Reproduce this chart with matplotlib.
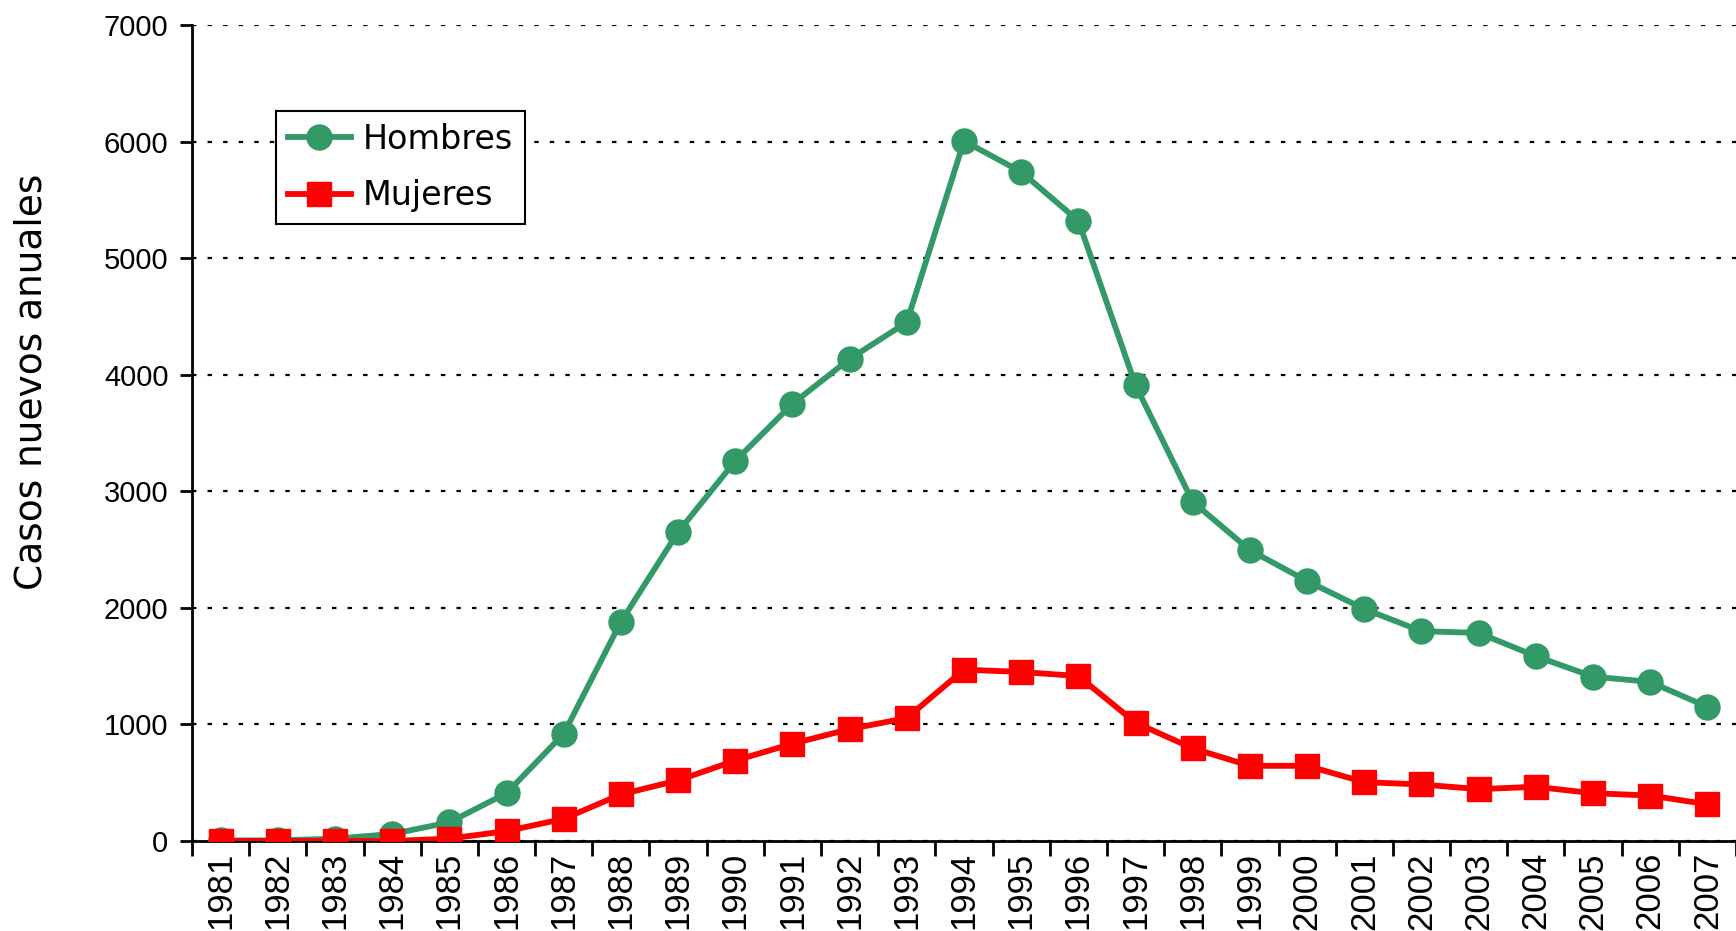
import numpy as np
import matplotlib
matplotlib.use("Agg")
import matplotlib.pyplot as plt

# datos
years = [str(y) for y in range(1981, 2008)]
hombres = [5, 5, 20, 60, 160, 410, 920, 1880, 2650, 3260, 3750, 4135, 4450,
           6005, 5740, 5320, 3910, 2910, 2495, 2230, 1990, 1800, 1785, 1585,
           1410, 1365, 1150]
mujeres = [0, 0, 0, 0, 20, 85, 190, 400, 520, 690, 835, 960, 1055,
           1470, 1450, 1415, 1015, 795, 645, 645, 505, 485, 445, 465,
           410, 390, 315]

fig = plt.figure(figsize=(17.36, 9.31), dpi=100)
ax = fig.add_axes([192 / 1736, 90 / 931, 1 - 192 / 1736, 816 / 931])

x = np.arange(1, len(years) + 1)
ax.plot(x, hombres, color="#339966", lw=4.2, marker="o", ms=18, label="Hombres", zorder=3)
ax.plot(x, mujeres, color="#ff0000", lw=4.2, marker="s", ms=17, label="Mujeres", zorder=4)

ax.set_xlim(0.5, len(years) + 0.5)
ax.set_ylim(0, 7000)
ax.set_yticks(range(0, 7001, 1000))
ax.set_xticks(x)
ax.set_xticklabels(years, rotation=90, fontsize=25, family="Liberation Sans")
ax.set_xticks(np.arange(0.5, len(years) + 1), minor=True)
ax.tick_params(axis="x", which="major", length=0, pad=8)
ax.tick_params(axis="x", which="minor", length=11, width=2, direction="out")
ax.tick_params(axis="y", length=9, width=2, direction="out", labelsize=21, pad=8)
for lab in ax.get_yticklabels():
    lab.set_family("Liberation Sans")

ax.yaxis.grid(True, color="black", linestyle=(0, (2, 5)), linewidth=1.6)
ax.set_axisbelow(True)
for s in ["top", "right"]:
    ax.spines[s].set_visible(False)
ax.spines["left"].set_linewidth(2)
ax.spines["bottom"].set_linewidth(2)

ax.set_ylabel("Casos nuevos anuales", fontsize=27, family="DejaVu Sans")
ax.yaxis.set_label_coords(-0.092, 0.5625)

leg = ax.legend(loc="upper left", bbox_to_anchor=(0.0544, 0.894), borderaxespad=0,
                fancybox=False, edgecolor="black", framealpha=1, fontsize=24,
                handlelength=1.9, borderpad=0.35, labelspacing=0.7, handletextpad=0.35)
leg.get_frame().set_linewidth(1.5)

fig.savefig("out.png", dpi=100)
